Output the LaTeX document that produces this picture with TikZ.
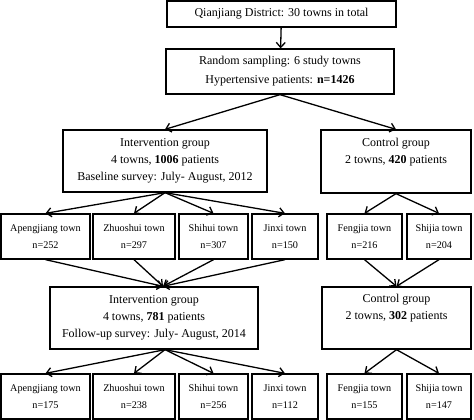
\documentclass[tikz,border=0pt]{standalone}
\usepackage{fontspec}
\setmainfont{Liberation Serif}
\usetikzlibrary{arrows.meta}
\begin{document}
\begin{tikzpicture}[x=1pt,y=-1pt,
  box/.style={draw=black,line width=1.3pt,inner sep=0pt,align=center,font=\fontsize{12}{17}\selectfont},
  tbox/.style={box,font=\fontsize{10.2}{17}\selectfont},
  arr/.style={line width=1.3pt,-{Straight Barb[length=5pt,width=9pt,line width=1.3pt]}}]
\useasboundingbox (0,0) rectangle (474,420);
\node[box,minimum width=229pt,minimum height=26pt] (top) at (281.5,14) {Qianjiang District: 30 towns in total};
\node[box,minimum width=228pt,minimum height=45pt,font=\fontsize{12}{19}\selectfont] (samp) at (280,71.5) {Random sampling: 6 study towns\\Hypertensive patients: \textbf{n=1426}};
\node[box,minimum width=204pt,minimum height=62pt] (int1) at (165,161) {Intervention group\\4 towns, \textbf{1006} patients\\Baseline survey: July- August, 2012};
\node[box,minimum width=150pt,minimum height=63pt] (ctl1) at (396,161.5) {Control group\\2 towns, \textbf{420} patients\\\strut};
\node[tbox,minimum width=89pt,minimum height=45pt] (a1) at (45.5,236.5) {Apengjiang town\\n=252};
\node[tbox,minimum width=82pt,minimum height=45pt] (z1) at (134,236.5) {Zhuoshui town\\n=297};
\node[tbox,minimum width=69pt,minimum height=45pt] (s1) at (213.5,236.5) {Shihui town\\n=307};
\node[tbox,minimum width=66pt,minimum height=45pt] (j1) at (285,236.5) {Jinxi town\\n=150};
\node[tbox,minimum width=75pt,minimum height=45pt] (f1) at (364.5,236.5) {Fengjia town\\n=216};
\node[tbox,minimum width=64pt,minimum height=45pt] (h1) at (439,236.5) {Shijia town\\n=204};
\node[box,minimum width=208pt,minimum height=62pt] (int2) at (154,318) {Intervention group\\4 towns, \textbf{781} patients\\Follow-up survey: July- August, 2014};
\node[box,minimum width=149pt,minimum height=62pt] (ctl2) at (396.5,318) {Control group\\2 towns, \textbf{302} patients\\\strut};
\node[tbox,minimum width=89pt,minimum height=45pt] (a2) at (45.5,396.5) {Apengjiang town\\n=175};
\node[tbox,minimum width=82pt,minimum height=45pt] (z2) at (134,396.5) {Zhuoshui town\\n=238};
\node[tbox,minimum width=69pt,minimum height=45pt] (s2) at (213.5,396.5) {Shihui town\\n=256};
\node[tbox,minimum width=66pt,minimum height=45pt] (j2) at (285,396.5) {Jinxi town\\n=112};
\node[tbox,minimum width=75pt,minimum height=45pt] (f2) at (364.5,396.5) {Fengjia town\\n=155};
\node[tbox,minimum width=64pt,minimum height=45pt] (h2) at (439,396.5) {Shijia town\\n=147};
\coordinate (i2in) at ([xshift=9pt]int2.north);
\coordinate (i2out) at ([xshift=11pt]int2.south);
\draw[arr] (top) -- (samp);
\draw[arr] (samp.south) -- (int1.north);
\draw[arr] (samp.south) -- (ctl1.north);
\foreach \t in {a1,z1,s1,j1} \draw[arr] (int1.south) -- (\t.north);
\foreach \t in {f1,h1} \draw[arr] (ctl1.south) -- (\t.north);
\foreach \t in {a1,z1,s1,j1} \draw[arr] (\t.south) -- (i2in);
\foreach \t in {f1,h1} \draw[arr] (\t.south) -- (ctl2.north);
\foreach \t in {a2,z2,s2,j2} \draw[arr] (i2out) -- (\t.north);
\foreach \t in {f2,h2} \draw[arr] (ctl2.south) -- (\t.north);
\end{tikzpicture}
\end{document}
